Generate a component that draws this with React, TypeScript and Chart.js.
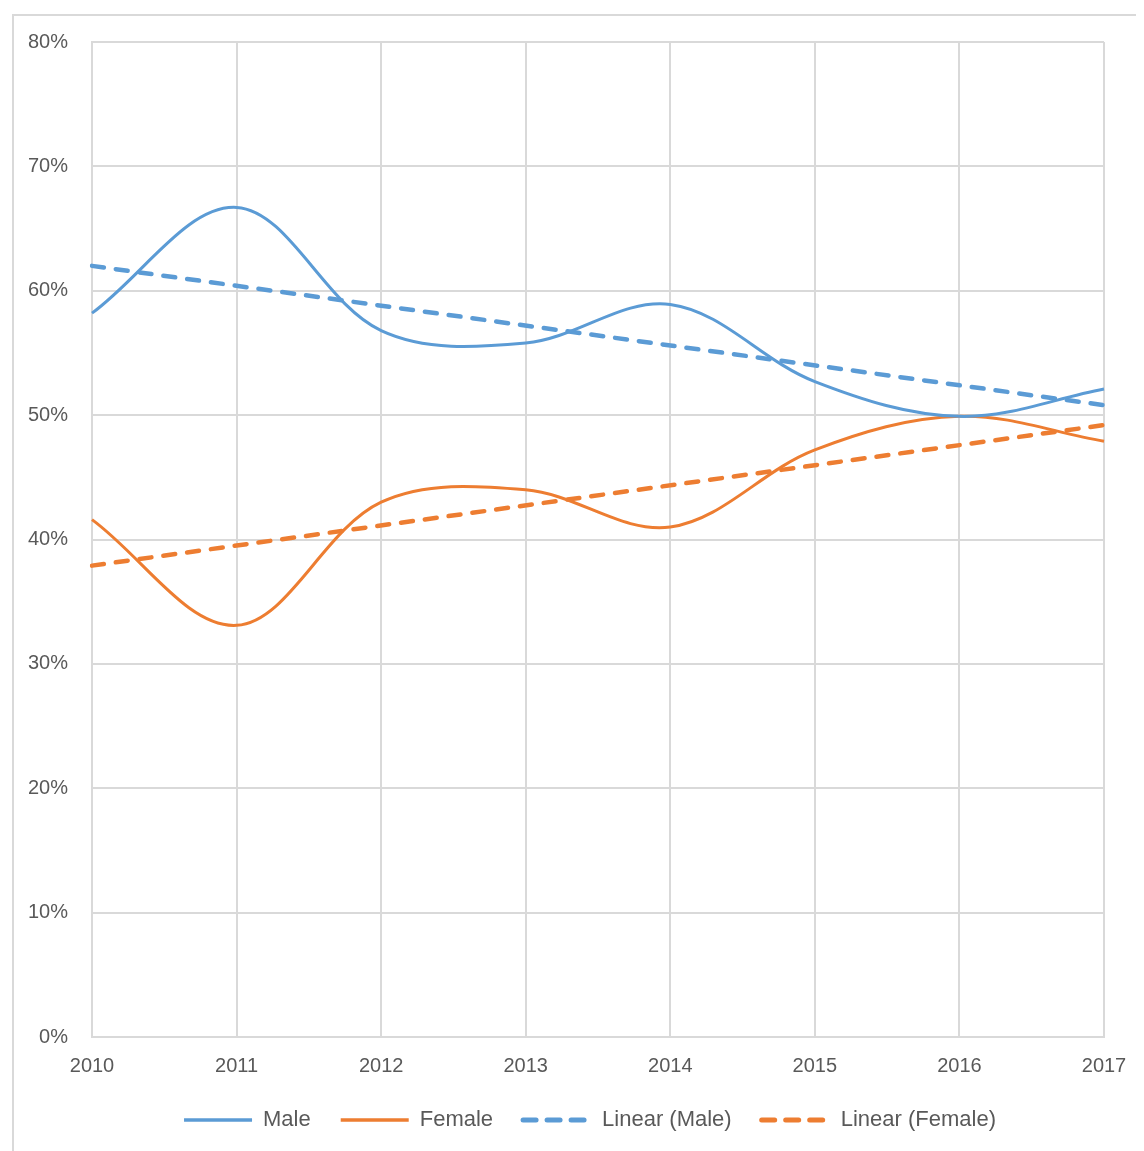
import React, { useEffect, useRef } from "react";
import { Chart, registerables } from "chart.js";

Chart.register(...registerables);

const years = ["2010", "2011", "2012", "2013", "2014", "2015", "2016", "2017"];
const maleValues = [58.2, 66.7, 56.8, 55.8, 58.9, 52.7, 49.9, 52.1];
const femaleValues = [41.6, 33.1, 43.0, 44.0, 41.0, 47.2, 49.9, 47.9];
// Linear trend lines read at their endpoints (2010 and 2017)
const maleTrend = [62.0, null, null, null, null, null, null, 50.8];
const femaleTrend = [37.9, null, null, null, null, null, null, 49.2];
const yTicks = [0, 10, 20, 30, 40, 50, 60, 70, 80];

const BLUE = "#5B9BD5";
const ORANGE = "#ED7D31";
const GRID = "#d9d9d9";
const TEXT = "#595959";
const FONT = "'Liberation Sans', Arial, sans-serif";

const legendShift = {
  id: "legendShift",
  afterLayout(chart: any) {
    if (chart.legend) {
      chart.legend.left -= 8;
      chart.legend.right -= 8;
    }
  },
};

export default function App() {
  const ref = useRef<HTMLCanvasElement | null>(null);

  useEffect(() => {
    document.documentElement.style.overflow = "hidden";
    document.body.style.overflow = "hidden";
    if (!ref.current) return;
    const chart = new Chart(ref.current, {
      type: "line",
      plugins: [legendShift],
      data: {
        labels: years,
        datasets: [
          {
            label: "Male",
            data: maleValues,
            borderColor: BLUE,
            backgroundColor: BLUE,
            borderWidth: 3,
            pointRadius: 0,
            tension: 0.35,
            fill: false,
          },
          {
            label: "Female",
            data: femaleValues,
            borderColor: ORANGE,
            backgroundColor: ORANGE,
            borderWidth: 3,
            pointRadius: 0,
            tension: 0.35,
            fill: false,
          },
          {
            label: "Linear (Male)",
            data: maleTrend,
            borderColor: BLUE,
            backgroundColor: BLUE,
            borderWidth: 4.5,
            borderDash: [12, 12],
            borderCapStyle: "round",
            pointRadius: 0,
            tension: 0,
            spanGaps: true,
            fill: false,
          },
          {
            label: "Linear (Female)",
            data: femaleTrend,
            borderColor: ORANGE,
            backgroundColor: ORANGE,
            borderWidth: 4.5,
            borderDash: [12, 12],
            borderCapStyle: "round",
            pointRadius: 0,
            tension: 0,
            spanGaps: true,
            fill: false,
          },
        ],
      },
      options: {
        responsive: false,
        animation: false,
        layout: { padding: { top: 16, right: 40, bottom: 10, left: 0 } },
        plugins: {
          tooltip: { enabled: false },
          legend: {
            position: "bottom",
            fullSize: false,
            labels: {
              usePointStyle: true,
              pointStyle: "line",
              pointStyleWidth: 68,
              boxWidth: 68,
              boxHeight: 12,
              padding: 30,
              color: TEXT,
              font: { family: FONT, size: 22 },
              generateLabels: (c: any) =>
                c.data.datasets.map((ds: any, i: number) => ({
                  text: ds.label,
                  datasetIndex: i,
                  fillStyle: ds.borderColor,
                  strokeStyle: ds.borderColor,
                  fontColor: TEXT,
                  lineWidth: ds.borderDash ? 5 : 3.5,
                  lineDash: ds.borderDash ? [13, 11] : [],
                  lineCap: ds.borderDash ? "round" : "butt",
                  pointStyle: "line",
                  hidden: false,
                })),
            },
          },
        },
        scales: {
          x: {
            type: "category",
            offset: false,
            grid: { color: GRID, lineWidth: 2, drawTicks: false },
            border: { color: GRID, width: 2 },
            ticks: {
              color: TEXT,
              padding: 17,
              maxRotation: 0,
              font: { family: FONT, size: 20 },
            },
            afterFit: (scale: any) => {
              scale.height = 42;
            },
          },
          y: {
            min: 0,
            max: 80,
            afterBuildTicks: (scale: any) => {
              scale.ticks = yTicks.map((v) => ({ value: v }));
            },
            grid: { color: GRID, lineWidth: 2, drawTicks: false },
            border: { color: GRID, width: 2 },
            ticks: {
              color: TEXT,
              padding: 24,
              font: { family: FONT, size: 20 },
              callback: (v: any) => `${v}%`,
            },
            afterFit: (scale: any) => {
              scale.width = 78;
            },
          },
        },
      },
    });
    return () => chart.destroy();
  }, []);

  return (
    <div
      style={{
        position: "relative",
        left: 4,
        top: 6,
        width: 1132,
        height: 1145,
        boxSizing: "border-box",
        borderTop: `2px solid ${GRID}`,
        borderLeft: `2px solid ${GRID}`,
      }}
    >
      <canvas
        ref={ref}
        width={1130}
        height={1145}
        style={{ display: "block", position: "absolute", left: 0, top: -10 }}
      />
    </div>
  );
}
